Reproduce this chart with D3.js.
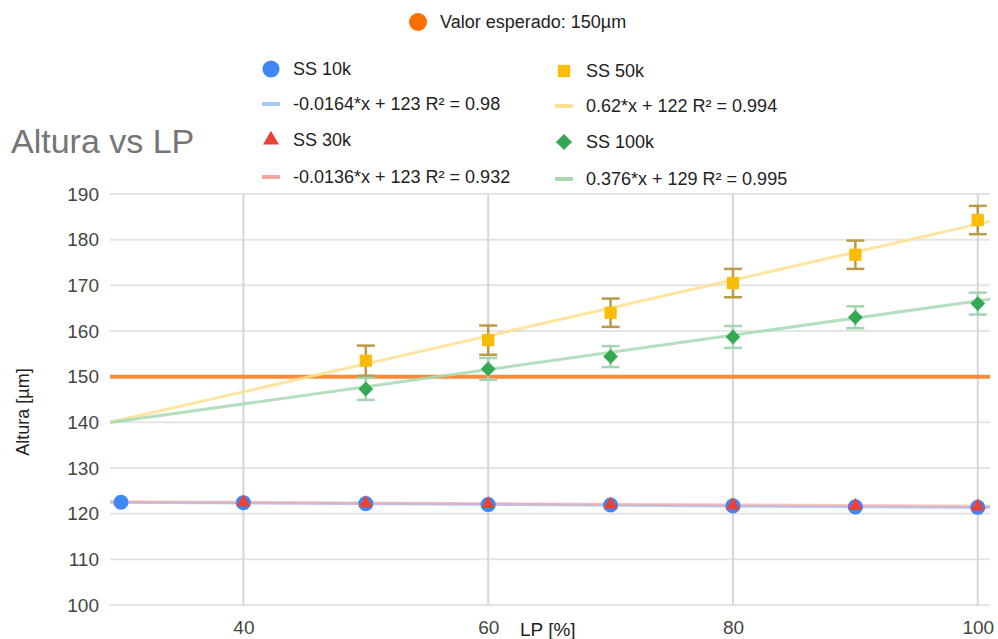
<!DOCTYPE html>
<html>
<head>
<meta charset="utf-8">
<script src="https://cdn.jsdelivr.net/npm/d3@7"></script>
<style>
  html, body { margin: 0; padding: 0; background: #fff; }
  svg { display: block; font-family: Arial, "Liberation Sans", sans-serif; }
</style>
</head>
<body>
<svg id="chart" width="998" height="639"></svg>
<script>
// ---- data ----
const lp = [30, 40, 50, 60, 70, 80, 90, 100];
const ss10k = [122.5, 122.4, 122.2, 122.0, 121.9, 121.7, 121.5, 121.4];
const ss30k = [null, 122.5, 122.3, 122.1, 122.0, 121.8, 121.7, 121.6];
const ss50k = [null, null, 153.5, 158.0, 164.0, 170.5, 176.7, 184.3];
const err50k = [null, null, 3.3, 3.2, 3.1, 3.1, 3.1, 3.1];
const ss100k = [null, null, 147.3, 151.7, 154.4, 158.7, 163.0, 166.0];
const err100k = [null, null, 2.4, 2.4, 2.3, 2.4, 2.4, 2.4];
const expected = 150;

const trendSlopes = [-0.0164, -0.0136, 0.612, 0.376];
const trendIntercepts = [123.0, 123.0, 122.2, 129.0];

const xTicks = [40, 60, 80, 100];
const yTicks = [100, 110, 120, 130, 140, 150, 160, 170, 180, 190];

const legendLabels = ["SS 10k", "-0.0164*x + 123 R² = 0.98", "SS 30k", "-0.0136*x + 123 R² = 0.932",
                      "SS 50k", "0.62*x + 122 R² = 0.994", "SS 100k", "0.376*x + 129 R² = 0.995"];
const expectedLabel = "Valor esperado: 150µm";
const titleText = "Altura vs LP";
const xLabel = "LP [%]";
const yLabel = "Altura [µm]";

// ---- styles ----
const colors = { blue: "#4285f4", red: "#ea4335", yellow: "#fbbc04", green: "#34a853", orange: "#ff6d01" };
const trendColors = ["#a9c8fb", "#f3a59e", "#fde08f", "#a6d9b3"];
const trendOpacity = [0.9, 0.6, 0.85, 0.85];

const svg = d3.select("#chart");
const x = d3.scaleLinear().domain([29.1, 101]).range([110, 990]);
const y = d3.scaleLinear().domain([100, 190]).range([605, 194]);

// title
svg.append("text").attr("x", 11).attr("y", 153).attr("font-size", 34).attr("fill", "#757575").text(titleText);

// gridlines
const grid = svg.append("g");
grid.selectAll("line.h").data(yTicks).join("line")
  .attr("x1", x.range()[0]).attr("x2", x.range()[1])
  .attr("y1", d => y(d)).attr("y2", d => y(d))
  .attr("stroke", "#e4e4e4").attr("stroke-width", 2);
grid.selectAll("line.v").data(xTicks).join("line")
  .attr("x1", d => x(d)).attr("x2", d => x(d))
  .attr("y1", y.range()[1]).attr("y2", y.range()[0])
  .attr("stroke", "#d6d6d6").attr("stroke-width", 2);

// axes (tick labels via d3 axes)
const yAxis = svg.append("g").attr("transform", `translate(${x.range()[0] - 10},0)`)
  .call(d3.axisLeft(y).tickValues(yTicks).tickSize(0).tickPadding(1));
yAxis.select(".domain").remove();
yAxis.selectAll("text").attr("font-size", 19).attr("fill", "#444").attr("font-family", "Arial, 'Liberation Sans', sans-serif");

const xAxis = svg.append("g").attr("transform", `translate(0,${y.range()[0]})`)
  .call(d3.axisBottom(x).tickValues(xTicks).tickSize(0).tickPadding(16));
xAxis.select(".domain").remove();
xAxis.selectAll("text").attr("font-size", 19).attr("fill", "#444").attr("font-family", "Arial, 'Liberation Sans', sans-serif");

// axis labels
svg.append("text").attr("x", 520).attr("y", 636).attr("font-size", 19).attr("fill", "#222").text(xLabel);
svg.append("text").attr("transform", "translate(29,412) rotate(-90)").attr("text-anchor", "middle")
  .attr("font-size", 18).attr("fill", "#222").text(yLabel);

// expected value line
svg.append("line")
  .attr("x1", x(x.domain()[0])).attr("x2", x(x.domain()[1]))
  .attr("y1", y(expected)).attr("y2", y(expected))
  .attr("stroke", "#fd8b3a").attr("stroke-width", 4);

// trend lines
const dom = x.domain();
trendSlopes.forEach((m, i) => {
  const b = trendIntercepts[i];
  svg.append("line")
    .attr("x1", x(dom[0])).attr("y1", y(m * dom[0] + b))
    .attr("x2", x(dom[1])).attr("y2", y(m * dom[1] + b))
    .attr("stroke", trendColors[i]).attr("stroke-width", 3).attr("stroke-opacity", trendOpacity[i]);
});

// error bars
function errorBars(vals, errs, color) {
  const g = svg.append("g").attr("stroke", color).attr("stroke-width", 2.5);
  lp.forEach((v, i) => {
    if (vals[i] == null || errs[i] == null) return;
    const cx = x(v), t = y(vals[i] + errs[i]), bt = y(vals[i] - errs[i]);
    g.append("line").attr("x1", cx).attr("x2", cx).attr("y1", t).attr("y2", bt);
    g.append("line").attr("x1", cx - 9).attr("x2", cx + 9).attr("y1", t).attr("y2", t);
    g.append("line").attr("x1", cx - 9).attr("x2", cx + 9).attr("y1", bt).attr("y2", bt);
  });
}
errorBars(ss50k, err50k, "#bb9a48");
errorBars(ss100k, err100k, "#a3d6b0");

// markers
const sym = (type, size) => d3.symbol().type(type).size(size)();
const rot = { circle: 0, triangle: 0, square: 0, diamond: 45 };
const types = { circle: d3.symbolCircle, triangle: d3.symbolTriangle, square: d3.symbolSquare, diamond: d3.symbolSquare };
function drawPoints(vals, kind, size, color) {
  svg.append("g").selectAll("path").data(lp.map((v, i) => [v, vals[i]]).filter(d => d[1] != null)).join("path")
    .attr("transform", d => `translate(${x(d[0])},${y(d[1])}) rotate(${rot[kind]})`)
    .attr("d", sym(types[kind], size)).attr("fill", color);
}
drawPoints(ss10k, "circle", 180, colors.blue);
drawPoints(ss30k, "triangle", 85, colors.red);
drawPoints(ss100k, "diamond", 110, colors.green);
drawPoints(ss50k, "square", 150, colors.yellow);

// legend
const lg = svg.append("g").attr("font-size", 18).attr("fill", "#222");
lg.append("circle").attr("cx", 418).attr("cy", 22).attr("r", 9).attr("fill", colors.orange);
lg.append("text").attr("x", 440).attr("y", 28).attr("fill", "#222").text(expectedLabel);

const legendCols = [271, 564];
const legendRows = [69, 104, 140, 177];
const legendKinds = [
  { kind: "circle", color: colors.blue }, { kind: "line", color: trendColors[0] },
  { kind: "triangle", color: colors.red }, { kind: "line", color: trendColors[1] },
  { kind: "square", color: colors.yellow }, { kind: "line", color: trendColors[2] },
  { kind: "diamond", color: colors.green }, { kind: "line", color: trendColors[3] }
];
const legendSizes = { circle: 230, triangle: 110, square: 150, diamond: 130 };
legendLabels.forEach((label, i) => {
  const cx = legendCols[Math.floor(i / 4)], cy = legendRows[i % 4] + (i >= 4 ? 2 : 0);
  const k = legendKinds[i];
  if (k.kind === "line") {
    lg.append("line").attr("x1", cx - 9).attr("x2", cx + 9).attr("y1", cy).attr("y2", cy)
      .attr("stroke", k.color).attr("stroke-width", 4);
  } else {
    lg.append("path").attr("transform", `translate(${cx},${cy}) rotate(${rot[k.kind]})`)
      .attr("d", sym(types[k.kind], legendSizes[k.kind])).attr("fill", k.color);
  }
  lg.append("text").attr("x", cx + 22).attr("y", cy + 6).attr("fill", "#222").text(label);
});
</script>
</body>
</html>
